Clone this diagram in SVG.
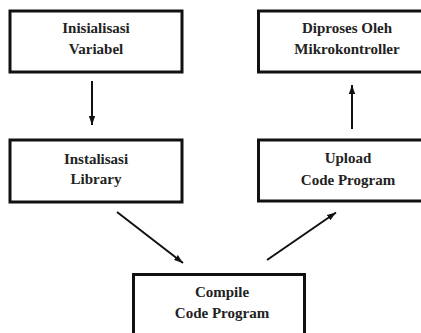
<svg xmlns="http://www.w3.org/2000/svg" width="421" height="333" viewBox="0 0 421 333">
<defs>
<style>
.box{fill:#fff;stroke:#111;stroke-width:3}
.t{font-weight:bold;font-size:15px;fill:#222;text-anchor:middle}
.c{stroke:#111;stroke-width:2;fill:none}
</style>
<marker id="ah" markerUnits="userSpaceOnUse" markerWidth="10" markerHeight="8" refX="9" refY="4" orient="auto">
<path d="M0,0.8 L9,4 L0,7.2 Z" fill="#111"/>
</marker>
</defs>
<rect width="421" height="333" fill="#fff"/>
<g font-family="Liberation Serif, DejaVu Serif, serif">
<g id="n1">
<rect class="box" x="10" y="11" width="172" height="61"/>
<text class="t" x="96" y="33">Inisialisasi</text>
<text class="t" x="96" y="54">Variabel</text>
</g>
<g id="n2">
<rect class="box" x="10" y="140" width="172" height="62"/>
<text class="t" x="96" y="164">Instalisasi</text>
<text class="t" x="96" y="184">Library</text>
</g>
<g id="n3">
<rect class="box" x="133.5" y="274.5" width="171" height="70"/>
<text class="t" x="222" y="297">Compile</text>
<text class="t" x="222" y="318">Code Program</text>
</g>
<g id="n4">
<rect class="box" x="258.5" y="140" width="178" height="61"/>
<text class="t" x="348" y="163">Upload</text>
<text class="t" x="348" y="185">Code Program</text>
</g>
<g id="n5">
<rect class="box" x="258.5" y="11" width="178" height="61"/>
<text class="t" x="347" y="33">Diproses Oleh</text>
<text class="t" x="347" y="54">Mikrokontroller</text>
</g>
</g>
<g id="connectors">
<line class="c" x1="92" y1="81" x2="92" y2="125" marker-end="url(#ah)"/>
<line class="c" x1="117" y1="212" x2="183" y2="263" marker-end="url(#ah)"/>
<line class="c" x1="267" y1="260" x2="336" y2="212.5" marker-end="url(#ah)"/>
<line class="c" x1="352" y1="129" x2="352" y2="85" marker-end="url(#ah)"/>
</g>
</svg>
